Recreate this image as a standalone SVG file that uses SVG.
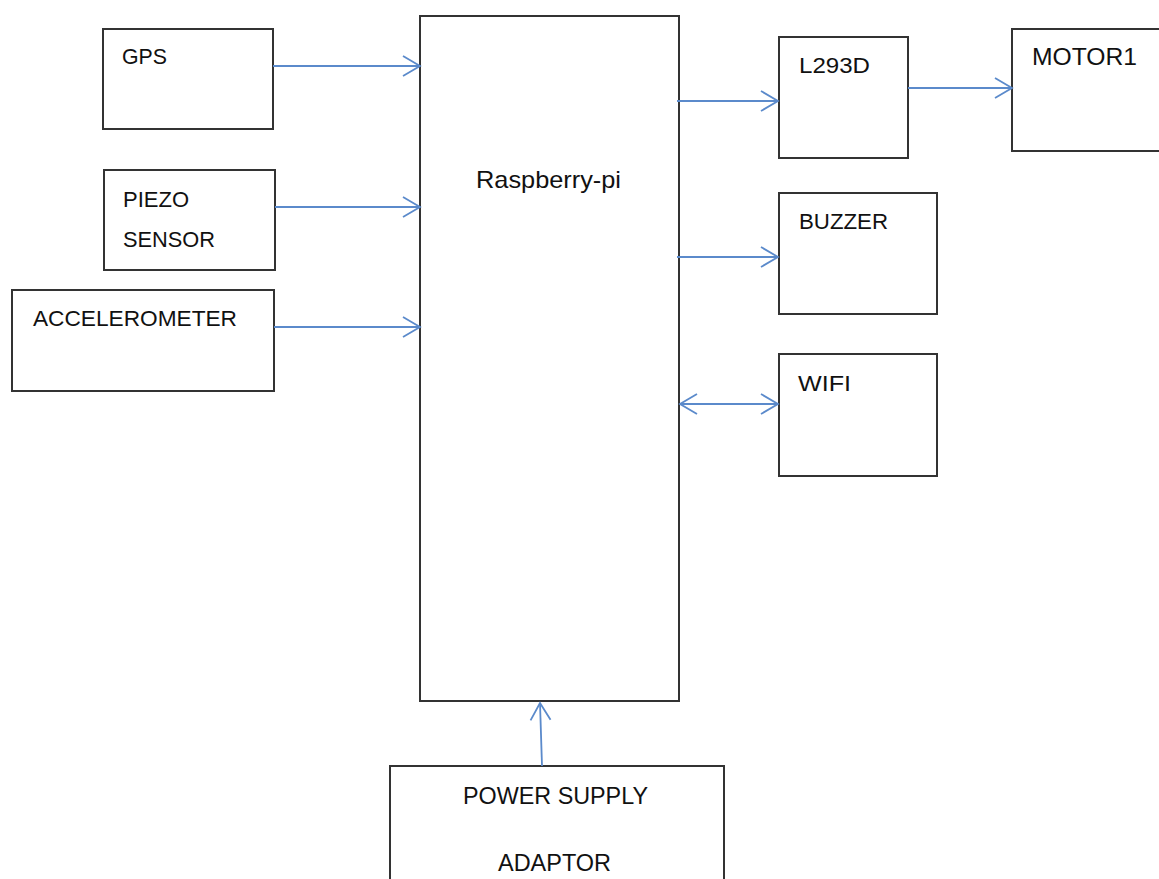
<svg xmlns="http://www.w3.org/2000/svg" width="1159" height="879" viewBox="0 0 1159 879">
<style>
.box{fill:#ffffff;stroke:#333333;stroke-width:2}
.lbl{font-family:"Liberation Sans",Arial,sans-serif;font-size:22px;fill:#111111}
.big{font-size:24px}
.conn{stroke:#5b8acb;stroke-width:1.8;fill:none}
</style>
<defs>
<marker id="arr" markerUnits="userSpaceOnUse" viewBox="-20 -12 22 24" refX="0" refY="0" markerWidth="22" markerHeight="24" orient="auto-start-reverse">
<path d="M -17 -10 L 0 0 L -17 10" fill="none" stroke="#5b8acb" stroke-width="1.8"/>
</marker>
</defs>
<rect width="1159" height="879" fill="#ffffff"/>
<g id="gps"><rect class="box" x="103" y="29" width="170" height="100"/><text class="lbl" x="122" y="64" textLength="45" lengthAdjust="spacingAndGlyphs">GPS</text></g>
<g id="piezo"><rect class="box" x="104" y="170" width="171" height="100"/><text class="lbl" x="123" y="207" textLength="66" lengthAdjust="spacingAndGlyphs">PIEZO</text><text class="lbl" x="123" y="247" textLength="92" lengthAdjust="spacingAndGlyphs">SENSOR</text></g>
<g id="accelerometer"><rect class="box" x="12" y="290" width="262" height="101"/><text class="lbl" x="33" y="326" textLength="204" lengthAdjust="spacingAndGlyphs">ACCELEROMETER</text></g>
<g id="raspberry"><rect class="box" x="420" y="16" width="259" height="685"/><text class="lbl big" x="476" y="188" textLength="145" lengthAdjust="spacingAndGlyphs">Raspberry-pi</text></g>
<g id="l293d"><rect class="box" x="779" y="37" width="129" height="121"/><text class="lbl" x="799" y="73" font-size="23" textLength="71" lengthAdjust="spacingAndGlyphs">L293D</text></g>
<g id="motor1"><rect class="box" x="1012" y="29" width="160" height="122"/><text class="lbl big" x="1032" y="65" textLength="105" lengthAdjust="spacingAndGlyphs">MOTOR1</text></g>
<g id="buzzer"><rect class="box" x="779" y="193" width="158" height="121"/><text class="lbl" x="799" y="229" textLength="89" lengthAdjust="spacingAndGlyphs">BUZZER</text></g>
<g id="wifi"><rect class="box" x="779" y="354" width="158" height="122"/><text class="lbl" x="798" y="391" textLength="53" lengthAdjust="spacingAndGlyphs">WIFI</text></g>
<g id="power"><rect class="box" x="390" y="766" width="334" height="130"/><text class="lbl big" x="463" y="804" textLength="185" lengthAdjust="spacingAndGlyphs">POWER SUPPLY</text><text class="lbl big" x="498" y="871" textLength="113" lengthAdjust="spacingAndGlyphs">ADAPTOR</text></g>
<g id="connectors">
<line class="conn" x1="273" y1="66" x2="420" y2="66" marker-end="url(#arr)"/>
<line class="conn" x1="275" y1="207" x2="420" y2="207" marker-end="url(#arr)"/>
<line class="conn" x1="274" y1="327" x2="420" y2="327" marker-end="url(#arr)"/>
<line class="conn" x1="677" y1="101" x2="778" y2="101" marker-end="url(#arr)"/>
<line class="conn" x1="908" y1="88" x2="1012" y2="88" marker-end="url(#arr)"/>
<line class="conn" x1="677" y1="257" x2="778" y2="257" marker-end="url(#arr)"/>
<line class="conn" x1="680" y1="404" x2="778" y2="404" marker-start="url(#arr)" marker-end="url(#arr)"/>
<line class="conn" x1="542" y1="766" x2="540" y2="703" marker-end="url(#arr)"/>
</g>
</svg>
